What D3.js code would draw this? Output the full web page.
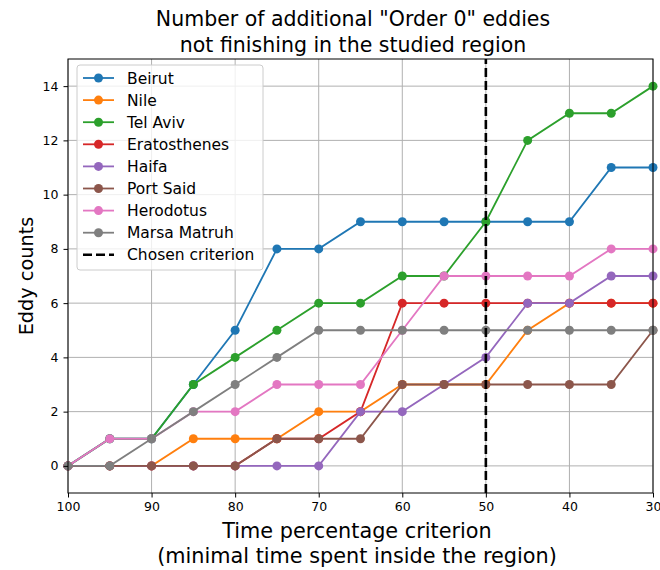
<!DOCTYPE html>
<html lang="en">
<head>
    <meta charset="UTF-8">
    <title>Order 0 eddies</title>
    <script src="https://unpkg.com/d3@7.8.5/dist/d3.min.js"></script>
    <style>
        * { margin: 0; padding: 0; box-sizing: border-box; }
        body { background: #fff; }
        svg { display: block; font-family: "DejaVu Sans", sans-serif; }
    </style>
</head>
<body>
    <svg class="cc" width="660" height="570"></svg>
    <script>
        // 数据
        const criteria = [100, 95, 90, 85, 80, 75, 70, 65, 60, 55, 50, 45, 40, 35, 30]
        const names = ['Beirut', 'Nile', 'Tel Aviv', 'Eratosthenes', 'Haifa', 'Port Said', 'Herodotus', 'Marsa Matruh']
        const colors = ['#1f77b4', '#ff7f0e', '#2ca02c', '#d62728', '#9467bd', '#8c564b', '#e377c2', '#7f7f7f']
        const beirut = [0, 1, 1, 3, 5, 8, 8, 9, 9, 9, 9, 9, 9, 11, 11]
        const nile = [0, 0, 0, 1, 1, 1, 2, 2, 3, 3, 3, 5, 6, 6, 6]
        const telAviv = [0, 1, 1, 3, 4, 5, 6, 6, 7, 7, 9, 12, 13, 13, 14]
        const eratosthenes = [0, 0, 0, 0, 0, 1, 1, 2, 6, 6, 6, 6, 6, 6, 6]
        const haifa = [0, 0, 0, 0, 0, 0, 0, 2, 2, 3, 4, 6, 6, 7, 7]
        const portSaid = [0, 0, 0, 0, 0, 1, 1, 1, 3, 3, 3, 3, 3, 3, 5]
        const herodotus = [0, 1, 1, 2, 2, 3, 3, 3, 5, 7, 7, 7, 7, 8, 8]
        const marsaMatruh = [0, 0, 1, 2, 3, 4, 5, 5, 5, 5, 5, 5, 5, 5, 5]
        const series = [beirut, nile, telAviv, eratosthenes, haifa, portSaid, herodotus, marsaMatruh]
        const chosen = 50
        const xTicks = [100, 90, 80, 70, 60, 50, 40, 30]
        const yTicks = [0, 2, 4, 6, 8, 10, 12, 14]

        const margin = { left: 68, right: 7, top: 59, bottom: 77 }
        const width = 660, height = 570
        const svg = d3.select('svg')

        const x = d3.scaleLinear().domain([100, 30]).range([margin.left, width - margin.right])
        const y = d3.scaleLinear().domain([-1, 15]).range([height - margin.bottom, margin.top])

        // 网格
        const grid = svg.append('g')
        grid.selectAll('.gx').data(xTicks).enter().append('line')
            .attr('x1', d => x(d)).attr('x2', d => x(d))
            .attr('y1', y(-1)).attr('y2', y(15))
            .attr('stroke', '#b0b0b0').attr('stroke-width', 1)
        grid.selectAll('.gy').data(yTicks).enter().append('line')
            .attr('x1', x(100)).attr('x2', x(30))
            .attr('y1', d => y(d)).attr('y2', d => y(d))
            .attr('stroke', '#b0b0b0').attr('stroke-width', 1)

        // 折线
        const line = d3.line().x((d, i) => x(criteria[i])).y(d => y(d))
        const plot = svg.append('g')
        series.forEach((s, k) => {
            const g = plot.append('g')
            g.append('path').attr('d', line(s))
                .attr('fill', 'none').attr('stroke', colors[k]).attr('stroke-width', 1.8)
            g.selectAll('circle').data(s).enter().append('circle')
                .attr('cx', (d, i) => x(criteria[i])).attr('cy', d => y(d))
                .attr('r', 4.5).attr('fill', colors[k])
        })

        // 选择的标准
        plot.append('line')
            .attr('x1', x(chosen)).attr('x2', x(chosen))
            .attr('y1', y(-1)).attr('y2', y(15))
            .attr('stroke', '#000').attr('stroke-width', 2.6)
            .attr('stroke-dasharray', '9,4')

        // 坐标轴
        const xAxis = svg.append('g')
            .attr('transform', `translate(0,${y(-1)})`)
            .call(d3.axisBottom(x).tickValues(xTicks).tickSize(4.5).tickPadding(5))
        const yAxis = svg.append('g')
            .attr('transform', `translate(${x(100)},0)`)
            .call(d3.axisLeft(y).tickValues(yTicks).tickSize(4.5).tickPadding(5))
        ;[xAxis, yAxis].forEach(a => {
            a.select('.domain').remove()
            a.selectAll('text').attr('font-size', 12.5).attr('fill', '#000')
                .attr('font-family', '"DejaVu Sans", sans-serif')
            a.selectAll('line').attr('stroke', '#000')
        })

        // 边框
        svg.append('rect')
            .attr('x', x(100)).attr('y', y(15))
            .attr('width', x(30) - x(100)).attr('height', y(-1) - y(15))
            .attr('fill', 'none').attr('stroke', '#000').attr('stroke-width', 1)

        // 标题
        const title = svg.append('text').attr('text-anchor', 'middle')
            .attr('font-size', 20.5).attr('fill', '#000')
        title.append('tspan').attr('x', 353).attr('y', 26).text('Number of additional "Order 0" eddies')
        title.append('tspan').attr('x', 353).attr('y', 52).text('not finishing in the studied region')

        const xl = svg.append('text').attr('text-anchor', 'middle')
            .attr('font-size', 20.8).attr('fill', '#000')
        xl.append('tspan').attr('x', 357).attr('y', 538).text('Time percentage criterion')
        xl.append('tspan').attr('x', 357).attr('y', 563).text('(minimal time spent inside the region)')

        svg.append('text').attr('text-anchor', 'middle')
            .attr('transform', `translate(33,${(y(-1) + y(15)) / 2}) rotate(-90)`)
            .attr('font-size', 19.3).attr('fill', '#000')
            .text('Eddy counts')

        // 图例
        const legend = svg.append('g').attr('transform', 'translate(77,65)')
        legend.append('rect')
            .attr('width', 186).attr('height', 205).attr('rx', 3)
            .attr('fill', 'rgba(255,255,255,0.8)').attr('stroke', '#ccc').attr('stroke-width', 1)
        const items = names.map((n, i) => ({ name: n, color: colors[i], dash: false }))
        items.push({ name: 'Chosen criterion', color: '#000', dash: true })
        const row = legend.selectAll('.item').data(items).enter().append('g')
            .attr('transform', (d, i) => `translate(0,${13 + i * 22.1})`)
        row.append('line')
            .attr('x1', 6).attr('x2', 37).attr('y1', 0).attr('y2', 0)
            .attr('stroke', d => d.color)
            .attr('stroke-width', d => d.dash ? 2.6 : 1.8)
            .attr('stroke-dasharray', d => d.dash ? '9,4' : null)
        row.filter(d => !d.dash).append('circle')
            .attr('cx', 21.5).attr('cy', 0).attr('r', 4.5).attr('fill', d => d.color)
        row.append('text').attr('x', 50).attr('y', 5.5)
            .attr('font-size', 15.5).attr('fill', '#000')
            .text(d => d.name)
    </script>
</body>
</html>
